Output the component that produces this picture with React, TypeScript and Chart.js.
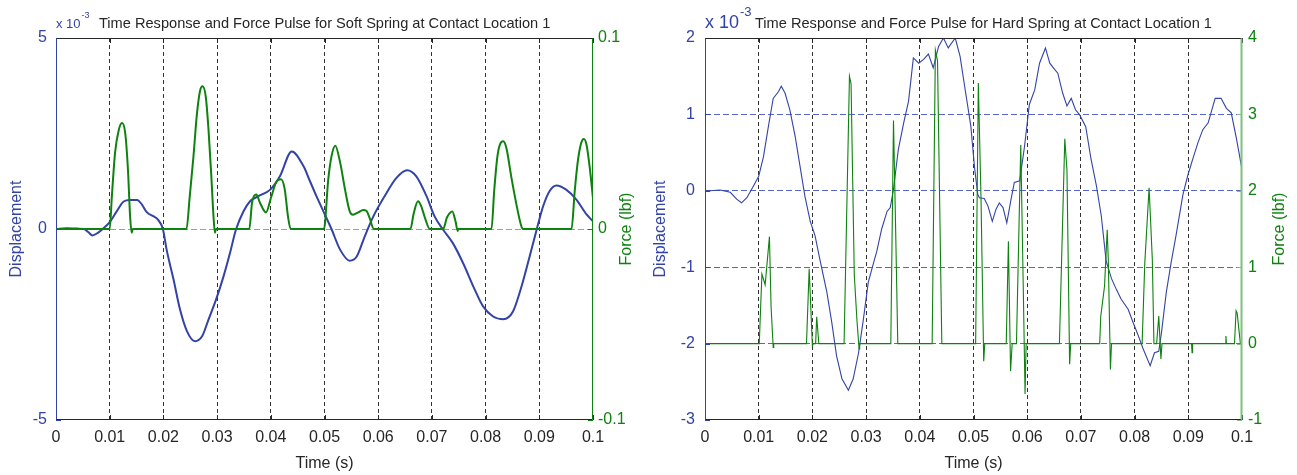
import React, { useEffect, useRef } from 'react';
import { Chart, registerables } from 'chart.js';

Chart.register(...registerables);

const FONT = '"Liberation Sans", Arial, Helvetica, sans-serif';
const BLUE = '#3343a5';
const GREEN = '#0e820e';
const TEXT = '#262626';

// ---------- shared ----------
const xTickLabels = ['0', '0.01', '0.02', '0.03', '0.04', '0.05', '0.06', '0.07', '0.08', '0.09', '0.1'];

// ---------- soft spring (left) ----------
const softTitle = 'Time Response and Force Pulse for Soft Spring at Contact Location 1';
const softDispTime = [
  0, 0.002, 0.004, 0.0052, 0.006, 0.0068, 0.0078, 0.0087, 0.01, 0.0113, 0.0126, 0.0138, 0.0151, 0.016,
  0.0169, 0.0182, 0.0189, 0.0199, 0.0206, 0.0219, 0.0231, 0.0244, 0.0259, 0.0272, 0.0284, 0.0298, 0.0312,
  0.0324, 0.0335, 0.0349, 0.0361, 0.0377, 0.0399, 0.0417, 0.0439, 0.0461, 0.0473, 0.0485, 0.0499, 0.0513,
  0.0529, 0.0547, 0.056, 0.0575, 0.0591, 0.0612, 0.0634, 0.0654, 0.0671, 0.069, 0.0705, 0.0721, 0.0739,
  0.0758, 0.0777, 0.0795, 0.0814, 0.0833, 0.0851, 0.0867, 0.0882, 0.0895, 0.0907, 0.0919, 0.0932, 0.095,
  0.0969, 0.0988, 0.1,
];
const softDispValues = [
  0, 0.02, 0.01, 0, -0.08, -0.17, -0.1, 0, 0.18, 0.46, 0.72, 0.76, 0.76, 0.64,
  0.44, 0.33, 0.26, 0.0, -0.54, -1.33, -2.11, -2.68, -2.94, -2.81, -2.37, -1.85, -1.24,
  -0.63, -0.02, 0.46, 0.72, 0.86, 1.03, 1.38, 2.03, 1.64, 1.25, 0.86, 0.43, 0,
  -0.54, -0.83, -0.72, -0.19, 0.33, 0.86, 1.34, 1.54, 1.38, 0.86, 0.33, -0.02, -0.37,
  -0.89, -1.5, -2.02, -2.29, -2.36, -2.16, -1.5, -0.72, -0.02, 0.59, 0.99, 1.14, 1.03,
  0.77, 0.38, 0.2,
];
const softForceTime = [
  0, 0.01, 0.0104, 0.011, 0.0117, 0.0123, 0.0129, 0.0134, 0.0138, 0.0141, 0.0143,
  0.0243, 0.0249, 0.0256, 0.0262, 0.0268, 0.0273, 0.0279, 0.0284, 0.0289, 0.0293, 0.0296, 0.0298,
  0.036, 0.0365, 0.0373, 0.038, 0.0391, 0.0401, 0.0411, 0.0419, 0.0426, 0.0432, 0.0437,
  0.0499, 0.0507, 0.0513, 0.052, 0.0529, 0.0538, 0.0547, 0.0553, 0.0563, 0.0572, 0.0578, 0.0584, 0.0592,
  0.066, 0.0666, 0.0674, 0.068, 0.0688, 0.0696,
  0.0721, 0.0728, 0.0738, 0.0744, 0.0748, 0.0749,
  0.0811, 0.0816, 0.0822, 0.0828, 0.0833, 0.0839, 0.0848, 0.0858, 0.0866, 0.0869,
  0.096, 0.0966, 0.0972, 0.0978, 0.0983, 0.0988, 0.0994, 0.1,
];
const softForceValues = [
  0, 0, 0.017, 0.04, 0.052, 0.0555, 0.05, 0.031, 0.0066, -0.002, 0,
  0, 0.017, 0.038, 0.059, 0.072, 0.0747, 0.069, 0.052, 0.029, 0.008, -0.002, 0,
  0, 0.0136, 0.018, 0.0136, 0.0087, 0.017, 0.025, 0.026, 0.0206, 0.0066, 0,
  0, 0.026, 0.038, 0.0436, 0.035, 0.021, 0.0092, 0.0075, 0.0087, 0.01, 0.0095, 0.0058, 0,
  0, 0.008, 0.0145, 0.012, 0.005, 0,
  0, 0.006, 0.0092, 0.004, -0.001, 0,
  0, 0.02, 0.038, 0.045, 0.0459, 0.042, 0.027, 0.012, 0.002, 0,
  0, 0.02, 0.036, 0.045, 0.0471, 0.044, 0.032, 0.016,
];

// ---------- hard spring (right) ----------
const hardTitle = 'Time Response and Force Pulse for Hard Spring at Contact Location 1';
const hardDispTime = [
  0, 0.001, 0.0028, 0.0047, 0.0059, 0.0068, 0.0078, 0.009, 0.01, 0.0109, 0.0118, 0.0127, 0.0137, 0.0142,
  0.0149, 0.0158, 0.0168, 0.0177, 0.0186, 0.0196, 0.0205, 0.0214, 0.0227, 0.0236, 0.0245, 0.0255, 0.0267,
  0.0276, 0.0286, 0.0295, 0.0304, 0.0314, 0.032, 0.0329, 0.0339, 0.0345, 0.0351, 0.036, 0.037, 0.0379,
  0.0388, 0.0398, 0.0407, 0.0416, 0.0425, 0.0435, 0.0444, 0.0453, 0.0466, 0.0475, 0.0485, 0.0495, 0.0502,
  0.0508, 0.0511, 0.052, 0.0527, 0.0535, 0.0542, 0.0548, 0.0555, 0.0562, 0.057, 0.0576, 0.0586, 0.0595,
  0.0604, 0.0614, 0.0623, 0.0634, 0.0642, 0.0651, 0.0657, 0.0666, 0.0674, 0.0682, 0.069, 0.0698, 0.0709,
  0.0719, 0.0729, 0.0738, 0.0747, 0.0757, 0.0766, 0.0775, 0.0788, 0.0797, 0.0806, 0.0816, 0.0829, 0.0837,
  0.0845, 0.085, 0.0859, 0.0868, 0.0877, 0.089, 0.0899, 0.0909, 0.0918, 0.0927, 0.0937, 0.095, 0.0961,
  0.0971, 0.098, 0.099, 0.1,
];
const hardDispValues = [
  0, 0, 0.01, -0.02, -0.11, -0.157, -0.09, 0.06, 0.19, 0.45, 0.84, 1.21, 1.3, 1.37,
  1.28, 1.06, 0.71, 0.32, -0.07, -0.4, -0.59, -0.9, -1.33, -1.72, -2.16, -2.46, -2.61,
  -2.46, -2.12, -1.68, -1.2, -0.94, -0.79, -0.5, -0.27, -0.22, 0.02, 0.54, 0.89, 1.17,
  1.74, 1.67, 1.72, 1.79, 1.61, 1.89, 2.0, 1.87, 2.0, 1.76, 1.3, 0.85, 0.3,
  -0.05, -0.09, -0.1, -0.2, -0.4, -0.24, -0.16, -0.22, -0.42, -0.11, 0.11, 0.13, 0.58,
  1.13, 1.32, 1.67, 1.87, 1.67, 1.59, 1.54, 1.28, 1.11, 1.21, 1.06, 0.99, 0.84,
  0.41, 0.06, -0.33, -0.92, -1.15, -1.29, -1.42, -1.55, -1.72, -1.88, -2.07, -2.29, -2.12,
  -2.1, -1.86, -1.33, -0.94, -0.59, -0.05, 0.2, 0.43, 0.63, 0.8, 0.89, 1.21, 1.21,
  1.08, 1.02, 0.67, 0.28,
];
const hardForceTime = [
  0, 0.0101, 0.0106, 0.0112, 0.012, 0.0123, 0.0127, 0.0128,
  0.0189, 0.0194, 0.02, 0.0202, 0.0206, 0.0208, 0.0212,
  0.0259, 0.0269, 0.0272, 0.0278, 0.0283, 0.0287, 0.0288,
  0.0346, 0.0351, 0.0355, 0.0359,
  0.0423, 0.0429, 0.0433, 0.0441,
  0.0504, 0.0509, 0.0514, 0.0519, 0.0521,
  0.0561, 0.0565, 0.0569, 0.0572,
  0.058, 0.0588, 0.0593, 0.0596, 0.0598,
  0.066, 0.067, 0.0674, 0.0679, 0.0681,
  0.0735, 0.0737, 0.0744, 0.0749, 0.0751, 0.0755, 0.0757,
  0.0814, 0.0819, 0.0827, 0.0833, 0.0836, 0.0841, 0.0845, 0.0849, 0.0851,
  0.0906, 0.0907, 0.0908,
  0.0969, 0.097, 0.0971,
  0.0986, 0.0989, 0.0991, 0.0994, 0.0997, 0.1,
];
const hardForceValues = [
  0, 0, 0.91, 0.77, 1.4, 0.49, -0.05, 0,
  0, 0.98, -0.03, 0, 0, 0.35, 0,
  0, 3.5, 3.4, 0.9, 0.3, -0.07, 0,
  0, 2.92, 1.5, 0,
  0, 3.84, 3.7, 0,
  0, 3.41, 1.9, -0.23, 0,
  0, 1.34, -0.36, 0,
  0, 2.6, 0.6, -0.66, 0,
  0, 2.68, 2.28, -0.27, 0,
  0, 0.36, 0.75, 1.49, 1.1, -0.34, 0,
  0, 1.06, 2.04, 1.1, 0, 0, 0.36, -0.2, 0,
  0, -0.12, 0,
  0, 0.1, 0,
  0, 0.43, 0.4, 0.2, 0, 0,
];

const softDispTicks = [-5, 0, 5];
const softForceTicks = [-0.1, 0, 0.1];
const hardDispTicks = [-3, -2, -1, 0, 1, 2];
const hardForceTicks = [-1, 0, 1, 2, 3, 4];

function toPoints(t: number[], v: number[]) {
  return t.map((x, i) => ({ x, y: v[i] }));
}

const matlabPlugin = {
  id: 'matlabFrame',
  afterDatasetsDraw(chart: any, _args: any, o: any) {
    const { ctx, chartArea: a } = chart;
    ctx.save();
    const tl = 5;
    ctx.lineWidth = 1;
    ctx.setLineDash([]);
    ctx.strokeStyle = TEXT;
    chart.scales.x.ticks.forEach((t: any) => {
      const px = Math.round(chart.scales.x.getPixelForValue(t.value)) + 0.5;
      ctx.beginPath();
      ctx.moveTo(px, a.bottom); ctx.lineTo(px, a.bottom - tl);
      ctx.moveTo(px, a.top); ctx.lineTo(px, a.top + tl);
      ctx.stroke();
    });
    ctx.strokeStyle = o.leftColor;
    chart.scales.y.ticks.forEach((t: any) => {
      const py = Math.round(chart.scales.y.getPixelForValue(t.value)) + 0.5;
      ctx.beginPath(); ctx.moveTo(a.left, py); ctx.lineTo(a.left + tl, py); ctx.stroke();
    });
    ctx.strokeStyle = o.rightColor;
    chart.scales.y1.ticks.forEach((t: any) => {
      const py = Math.round(chart.scales.y1.getPixelForValue(t.value)) + 0.5;
      ctx.beginPath(); ctx.moveTo(a.right, py); ctx.lineTo(a.right - tl, py); ctx.stroke();
    });
    const L = Math.round(a.left) + 0.5, R = Math.round(a.right) - 0.5;
    const T = Math.round(a.top) + 0.5, B = Math.round(a.bottom) - 0.5;
    ctx.strokeStyle = TEXT;
    ctx.beginPath(); ctx.moveTo(L, T); ctx.lineTo(R, T); ctx.moveTo(L, B); ctx.lineTo(R, B); ctx.stroke();
    ctx.strokeStyle = o.leftColor;
    ctx.beginPath(); ctx.moveTo(L, T); ctx.lineTo(L, B); ctx.stroke();
    ctx.strokeStyle = o.rightColor;
    ctx.lineWidth = o.rightWidth;
    ctx.beginPath(); ctx.moveTo(R, T); ctx.lineTo(R, B); ctx.stroke();
    ctx.restore();
  },
  afterDraw(chart: any, _args: any, o: any) {
    const { ctx, chartArea: a } = chart;
    ctx.save();
    const midY = (a.top + a.bottom) / 2;
    ctx.textAlign = 'center';
    ctx.textBaseline = 'middle';
    ctx.font = `16px ${FONT}`;
    ctx.fillStyle = BLUE;
    ctx.save(); ctx.translate(o.leftTitleX, midY); ctx.rotate(-Math.PI / 2); ctx.fillText('Displacement', 0, 0); ctx.restore();
    ctx.fillStyle = GREEN;
    ctx.save(); ctx.translate(o.rightTitleX, midY); ctx.rotate(-Math.PI / 2); ctx.fillText('Force (lbf)', 0, 0); ctx.restore();
    ctx.textAlign = 'left';
    ctx.textBaseline = 'alphabetic';
    ctx.fillStyle = BLUE;
    ctx.font = `${o.expSize}px ${FONT}`;
    ctx.fillText('x 10', a.left, 28);
    const w = ctx.measureText('x 10').width;
    ctx.font = `${o.supSize}px ${FONT}`;
    ctx.fillText('-3', a.left + w + 1, o.supBase);
    ctx.fillStyle = TEXT;
    ctx.font = `14.6px ${FONT}`;
    ctx.fillText(o.title, o.titleX, 28);
    ctx.restore();
  },
};

function makeConfig(p: any) {
  const xs = {
    type: 'linear', min: 0, max: 0.1,
    afterBuildTicks: (s: any) => { s.ticks = xTickLabels.map((_, i) => ({ value: i / 100 })); },
    ticks: {
      color: TEXT, font: { family: FONT, size: 16 }, padding: 8, maxRotation: 0, autoSkip: false,
      callback: (_v: any, i: number) => xTickLabels[i],
    },
    grid: {
      drawTicks: false,
      color: (c: any) => (c.tick && c.tick.value > 0.001 && c.tick.value < 0.099 ? 'rgba(0,0,0,0.8)' : 'transparent'),
    },
    border: { display: false, dash: [4, 3] },
    title: { display: true, text: 'Time (s)', color: TEXT, font: { family: FONT, size: 16 }, padding: { top: 0, bottom: 1.5 } },
    afterFit: (s: any) => { s.height = p.xHeight; },
  };
  const ys = {
    type: 'linear', position: 'left', min: p.yTicks[0], max: p.yTicks[p.yTicks.length - 1],
    afterBuildTicks: (s: any) => { s.ticks = p.yTicks.map((v: number) => ({ value: v })); },
    ticks: { color: BLUE, font: { family: FONT, size: 16 }, padding: p.yPad },
    grid: {
      drawTicks: false,
      color: (c: any) => {
        if (!c.tick) return 'transparent';
        const v = c.tick.value;
        if (v === p.yTicks[0] || v === p.yTicks[p.yTicks.length - 1]) return 'transparent';
        return p.hGridColor;
      },
    },
    border: { display: false, dash: [6, 3] },
    afterFit: (s: any) => { s.width = p.yWidth; },
  };
  const y1s = {
    type: 'linear', position: 'right', min: p.y1Ticks[0], max: p.y1Ticks[p.y1Ticks.length - 1],
    afterBuildTicks: (s: any) => { s.ticks = p.y1Ticks.map((v: number) => ({ value: v })); },
    ticks: { color: GREEN, font: { family: FONT, size: 16 }, padding: p.y1Pad },
    grid: { display: false, drawTicks: false },
    border: { display: false },
    afterFit: (s: any) => { s.width = p.y1Width; },
  };
  return {
    type: 'line',
    data: {
      datasets: [
        {
          label: 'Displacement', data: toPoints(p.dispT, p.dispV), yAxisID: 'y',
          borderColor: BLUE, borderWidth: p.lw, pointRadius: 0, fill: false,
          tension: p.smooth ? 0.4 : 0, cubicInterpolationMode: p.smooth ? 'monotone' : 'default', order: 2,
        },
        {
          label: 'Force', data: toPoints(p.forceT, p.forceV), yAxisID: 'y1',
          borderColor: GREEN, borderWidth: p.lw, pointRadius: 0, fill: false,
          tension: p.smooth ? 0.4 : 0, cubicInterpolationMode: p.smooth ? 'monotone' : 'default', order: 1,
        },
      ],
    },
    options: {
      responsive: false, animation: false, devicePixelRatio: 1,
      layout: { padding: { top: 38, left: 0, right: 0, bottom: 0 } },
      plugins: {
        legend: { display: false }, tooltip: { enabled: false }, title: { display: false },
        matlabFrame: p.frame,
      },
      scales: { x: xs, y: ys, y1: y1s },
    },
    plugins: [matlabPlugin],
  };
}

function ChartCanvas({ cfg, left, width }: { cfg: any; left: number; width: number }) {
  const ref = useRef<HTMLCanvasElement | null>(null);
  useEffect(() => {
    if (!ref.current) return;
    const chart = new Chart(ref.current, cfg);
    return () => chart.destroy();
  }, [cfg]);
  return (
    <canvas
      ref={ref}
      width={width}
      height={475}
      style={{ position: 'absolute', left, top: 0, width, height: 475 }}
    />
  );
}

const softCfg = makeConfig({
  dispT: softDispTime, dispV: softDispValues, forceT: softForceTime, forceV: softForceValues,
  yTicks: softDispTicks, y1Ticks: softForceTicks, smooth: true, lw: 2,
  yWidth: 56, y1Width: 55, xHeight: 55, yPad: 9, y1Pad: 5, hGridColor: '#8d9ae0',
  frame: {
    leftColor: BLUE, rightColor: GREEN, rightWidth: 1, leftTitleX: 17, rightTitleX: 627,
    expSize: 13, supSize: 9, supBase: 18, title: softTitle, titleX: 99,
  },
});

const hardCfg = makeConfig({
  dispT: hardDispTime, dispV: hardDispValues, forceT: hardForceTime, forceV: hardForceValues,
  yTicks: hardDispTicks, y1Ticks: hardForceTicks, smooth: false, lw: 1.1,
  yWidth: 57, y1Width: 55, xHeight: 55, yPad: 10, y1Pad: 6, hGridColor: '#5566c4',
  frame: {
    leftColor: BLUE, rightColor: '#7fbf7f', rightWidth: 2, leftTitleX: 13, rightTitleX: 632,
    expSize: 18, supSize: 13, supBase: 16, title: hardTitle, titleX: 107,
  },
});

export default function App() {
  return (
    <div style={{ position: 'fixed', left: 0, top: 0, width: 1297, height: 475, background: '#fff', overflow: 'hidden' }}>
      <ChartCanvas cfg={softCfg} left={0} width={648} />
      <ChartCanvas cfg={hardCfg} left={648} width={649} />
    </div>
  );
}
